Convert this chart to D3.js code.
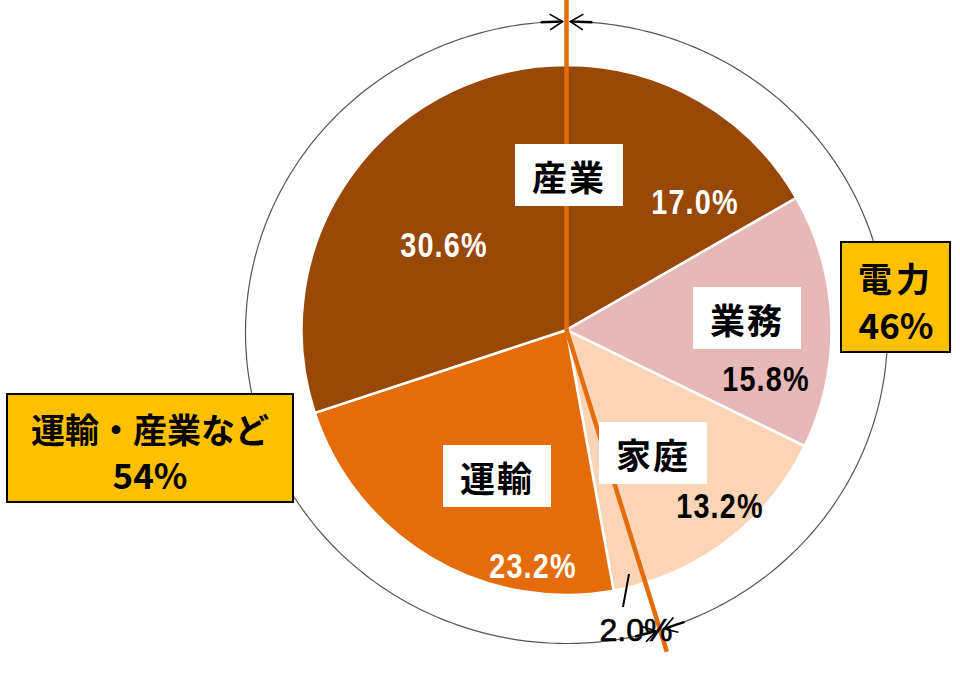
<!DOCTYPE html>
<html><head><meta charset="utf-8">
<script src="https://cdn.jsdelivr.net/npm/d3@7"></script>
<style>body{margin:0;background:#fff}svg{display:block}</style>
</head><body><svg id="c" width="960" height="675"></svg>
<script>
// ---- data ----
const slices = ["産業", "業務", "家庭", "その他", "運輸", "産業2"];
const values = [17.0, 15.8, 13.2, 2.0, 23.2, 30.6];
const valueLabels = ["17.0%", "15.8%", "13.2%", "2.0%", "23.2%", "30.6%"];
const sectorNames = ["産業", "業務", "家庭", "運輸"];
const groupNames = ["電力", "運輸・産業など"];
const groupValues = ["46%", "54%"];

// ---- styles / layout ----
const colors = ["#984807", "#E6B9B8", "#FBD5B5", "#FBD5B5", "#E46C0A", "#984807"];
const pctColor = ["#fff", "#000", "#000", "#000", "#fff", "#fff"];
const pctPos = [[695, 201], [766, 378], [720, 505], [636, 630], [533, 565], [444, 244]];
const namePos = [[569, 175], [747, 318], [653, 453], [497, 476]];
const cx = 566.5, cy = 330, R = 265;
const ex = 566.5, ey = 332.5, erx = 321, ery = 311;

const svg = d3.select("#c");
const g = svg.append("g").attr("transform", `translate(${cx},${cy})`);
const pie = d3.pie().sort(null).value(d => d)(values);
const arc = d3.arc().innerRadius(0).outerRadius(R);
g.selectAll("path.s").data(pie).join("path").attr("class", "s")
  .attr("d", arc).attr("fill", (d, i) => colors[i])
  .attr("stroke", "#fff").attr("stroke-width", 2.5);

// split angle between the two groups
const splitA = pie[2].endAngle;

// outer ellipse
const ellPt = t => [ex + erx * Math.sin(t), ey - ery * Math.cos(t)];
function crossParam(phi) {
  const dx = Math.sin(phi), dy = -Math.cos(phi);
  let lo = 0, hi = 600;
  for (let k = 0; k < 60; k++) {
    const m = (lo + hi) / 2;
    const x = cx + dx * m - ex, y = cy + dy * m - ey;
    if ((x / erx) ** 2 + (y / ery) ** 2 < 1) lo = m; else hi = m;
  }
  const x = cx + dx * lo - ex, y = cy + dy * lo - ey;
  return Math.atan2(x / erx, -y / ery);
}
const tBot = crossParam(splitA);
const gap = 0.012;
const line = d3.line();
function ellArc(a0, a1) {
  const n = 200, pts = [];
  for (let k = 0; k <= n; k++) pts.push(ellPt(a0 + (a1 - a0) * k / n));
  return pts;
}
const arcsDef = [[gap, tBot - gap], [tBot + gap, 2 * Math.PI - gap]];
arcsDef.forEach(([a0, a1]) => {
  svg.append("path").attr("d", line(ellArc(a0, a1))).attr("fill", "none")
    .attr("stroke", "#555").attr("stroke-width", 1.2);
});
function arrowHead(tip, dirFrom) {
  const p = ellPt(tip), q = ellPt(dirFrom);
  const ang = Math.atan2(p[1] - q[1], p[0] - q[0]);
  const L = 22, B = 15, sp = 0.55;
  const back = [p[0] - L * Math.cos(ang), p[1] - L * Math.sin(ang)];
  svg.append("path").attr("d", line([back, p])).attr("stroke", "#000").attr("stroke-width", 2.6).attr("fill", "none");
  const b1 = [p[0] - B * Math.cos(ang - sp), p[1] - B * Math.sin(ang - sp)];
  const b2 = [p[0] - B * Math.cos(ang + sp), p[1] - B * Math.sin(ang + sp)];
  svg.append("path").attr("d", line([b1, p, b2])).attr("stroke", "#000").attr("stroke-width", 1.6).attr("fill", "none");
}
arcsDef.forEach(([a0, a1]) => { arrowHead(a0, a0 + 0.05); arrowHead(a1, a1 - 0.05); });

// orange split line
const Lend = 337;
svg.append("path").attr("d", line([[cx, 0], [cx, cy], [cx + Lend * Math.sin(splitA), cy - Lend * Math.cos(splitA)]]))
  .attr("fill", "none").attr("stroke", "#E46C0A").attr("stroke-width", 4.5).attr("stroke-linejoin", "miter");

// name boxes
const jp = "'Noto Sans CJK JP', sans-serif";
sectorNames.forEach((n, i) => {
  const [x, y] = namePos[i];
  svg.append("rect").attr("x", x - 54).attr("y", y - 31).attr("width", 108).attr("height", 62).attr("fill", "#fff");
  svg.append("text").attr("x", x).attr("y", y).attr("text-anchor", "middle").attr("dominant-baseline", "central")
    .attr("font-family", jp).attr("font-weight", 700).attr("font-size", 35).attr("letter-spacing", 2).text(n);
});

// percent labels (condensed)
valueLabels.forEach((t, i) => {
  const [x, y] = pctPos[i];
  const small = i === 3;
  svg.append("text").attr("transform", `translate(${x},${y}) scale(${small ? 1 : 0.8},1)`)
    .attr("text-anchor", "middle").attr("dominant-baseline", "central")
    .attr("font-family", "'Liberation Sans', Arial, sans-serif")
    .attr("font-weight", small ? 400 : 700).attr("font-size", small ? 32 : 36)
    .attr("letter-spacing", small ? 0 : 1.5)
    .attr("stroke", small ? "#000" : "none").attr("stroke-width", small ? 0.6 : 0)
    .attr("fill", pctColor[i]).text(t);
});
// leader for 2.0%
svg.append("path").attr("d", line([[629, 574], [623, 607]])).attr("stroke", "#000").attr("stroke-width", 2);

// group boxes
const boxes = [[841, 242, 109, 110, 896], [7, 394, 286, 108, 150]];
groupNames.forEach((n, i) => {
  const [x, y, w, h, tx] = boxes[i];
  svg.append("rect").attr("x", x).attr("y", y).attr("width", w).attr("height", h)
    .attr("fill", "#FFC000").attr("stroke", "#000").attr("stroke-width", 2);
  svg.append("text").attr("x", tx).attr("y", y + h * 0.32).attr("text-anchor", "middle").attr("dominant-baseline", "central")
    .attr("font-family", jp).attr("font-weight", 700).attr("font-size", 34).attr("letter-spacing", i === 0 ? 4 : 0).text(n);
  svg.append("text").attr("x", tx).attr("y", y + h * 0.74).attr("text-anchor", "middle").attr("dominant-baseline", "central")
    .attr("font-family", jp).attr("font-weight", 700).attr("font-size", 35).text(groupValues[i]);
});
</script></body></html>
